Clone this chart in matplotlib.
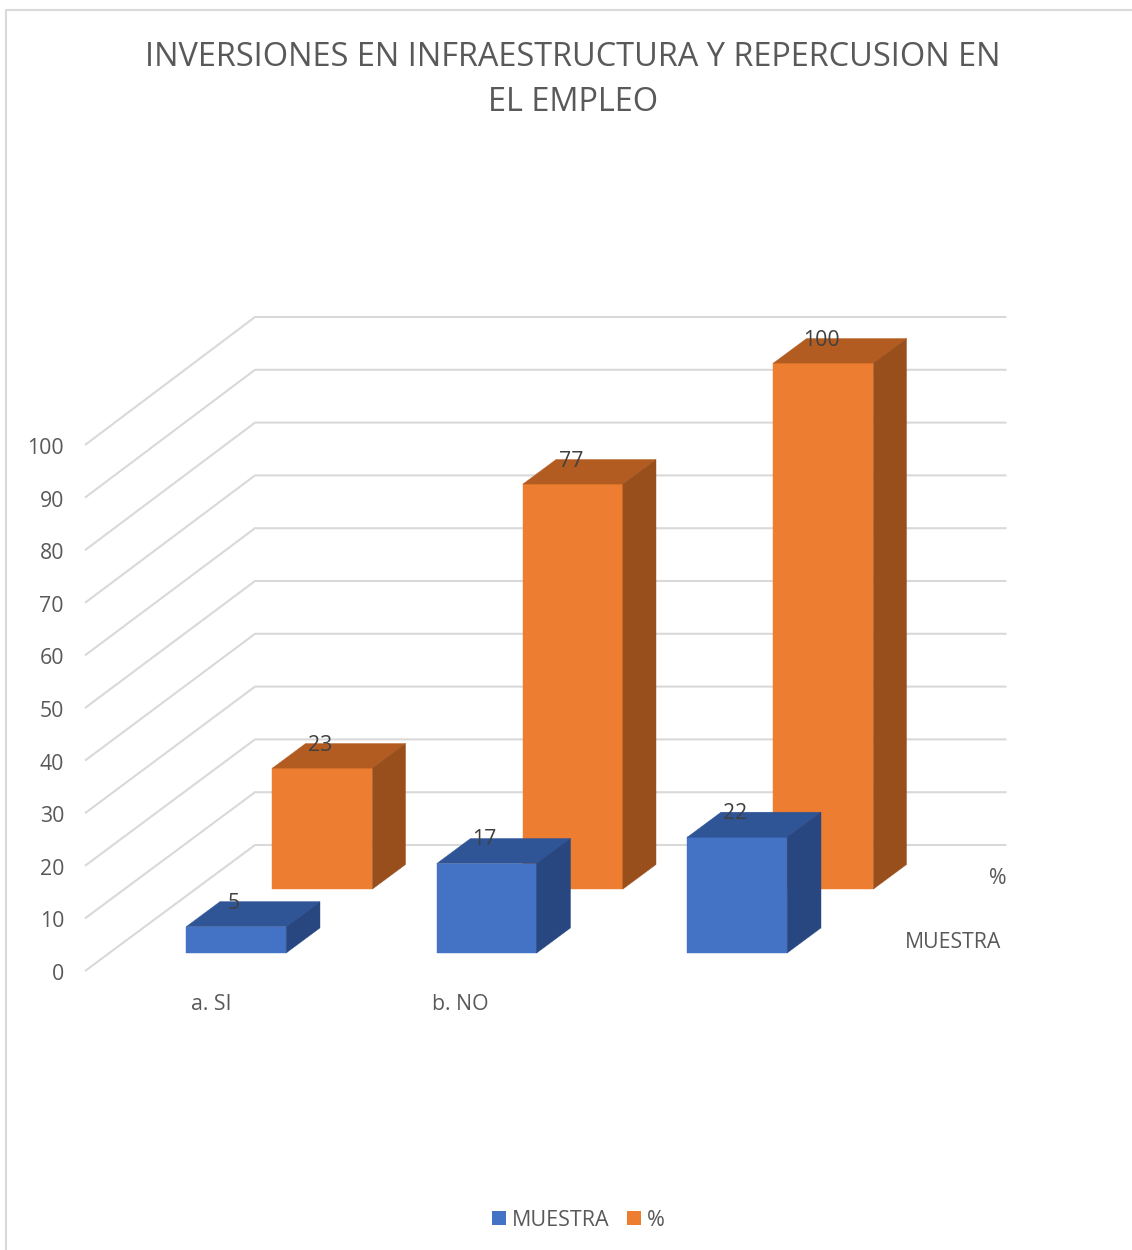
import matplotlib
matplotlib.use('Agg')
import matplotlib.pyplot as plt
from matplotlib.patches import Polygon, Rectangle

# data
title = 'INVERSIONES EN INFRAESTRUCTURA Y REPERCUSION EN\nEL EMPLEO'
categories = ['a. SI', 'b. NO', '']
series_names = ['MUESTRA', '%']
muestra = [5, 17, 22]
porcentaje = [23, 77, 100]
y_ticks = [0, 10, 20, 30, 40, 50, 60, 70, 80, 90, 100]

plt.rcParams['font.family'] = ['Open Sans', 'DejaVu Sans']

W, H = 1132, 1250
TEXT = '#595959'
GRID = '#d9d9d9'

# px per unit, the axes fill the whole figure
CAT_PX = 250.5
VAL_PX = 5.26
X0, Y0 = 85, 971
DEPTH_X, DEPTH_Y = 170 / CAT_PX, 126 / VAL_PX
BACK_SCALE = 5.28 / 5.26  # back wall is a hair taller than the front edge
TEXT_DY = 3.5 / VAL_PX  # Open Sans sits a bit high with va=center


def proj(x, y, d):
    # oblique projection: category, value, depth -> axes data
    return x + d * DEPTH_X, y + d * DEPTH_Y


def bar3d(ax, x0, x1, d0, d1, h, front, top, side):
    ax.add_patch(Polygon([proj(x0, 0, d0), proj(x1, 0, d0), proj(x1, h, d0), proj(x0, h, d0)],
                         facecolor=front, edgecolor=front, lw=0.3))
    ax.add_patch(Polygon([proj(x0, h, d0), proj(x1, h, d0), proj(x1, h, d1), proj(x0, h, d1)],
                         facecolor=top, edgecolor=top, lw=0.3))
    ax.add_patch(Polygon([proj(x1, 0, d0), proj(x1, 0, d1), proj(x1, h, d1), proj(x1, h, d0)],
                         facecolor=side, edgecolor=side, lw=0.3))


fig = plt.figure(figsize=(W / 100, H / 100), dpi=100)
ax = fig.add_axes([0, 0, 1, 1])
ax.set_xlim(-X0 / CAT_PX, (W - X0) / CAT_PX)
ax.set_ylim(-(H - Y0) / VAL_PX, Y0 / VAL_PX)
ax.axis('off')


def px(x, y):
    return (x - X0) / CAT_PX, (Y0 - y) / VAL_PX


# chart frame
ax.plot(*zip(px(6, 1250), px(6, 9.5), px(1132, 9.5)), color='#d9d9d9', lw=1.5)

# gridlines on side wall and back wall
n_cat = len(categories)
for v in y_ticks:
    a = proj(0, v, 0)
    b = proj(0, v * BACK_SCALE, 1)
    c = proj(n_cat, v * BACK_SCALE, 1)
    ax.plot([a[0], b[0], c[0]], [a[1], b[1], c[1]], color=GRID, lw=1.5, zorder=1,
            solid_capstyle='butt')
    ax.text(px(64, 0)[0], v - TEXT_DY, str(v), ha='right', va='center', fontsize=15.3, color=TEXT)

# series sit back to front
bars = [
    (porcentaje, 0.65, 0.845, '#ed7d31', '#b35c21', '#984f1c'),
    (muestra, 0.143, 0.342, '#4472c4', '#2f5597', '#284780'),
]
for vals, d0, d1, front, top, side in bars:
    for i, v in enumerate(vals):
        x0, x1 = i + 0.307, i + 0.706
        bar3d(ax, x0, x1, d0, d1, v, front, top, side)
        # label goes over the back edge of the top face, centred on the front face
        lx = (x0 + x1) / 2 + d0 * DEPTH_X - 2 / CAT_PX
        ly = v + d1 * DEPTH_Y + 2 / VAL_PX - TEXT_DY
        ax.text(lx, ly, str(v), ha='center', va='center', fontsize=15.3, color='#404040', zorder=5)

# category and series axis labels
for i, c in enumerate(categories):
    ax.text(*px(211 + i * 249, 1005), c, ha='center', va='center', fontsize=15.3, color=TEXT)
ax.text(*px(1001, 943), series_names[0], ha='right', va='center', fontsize=15.3, color=TEXT)
ax.text(*px(1006, 879), series_names[1], ha='right', va='center', fontsize=15.3, color=TEXT)

# title
ax.text(*px(573, 80), title, ha='center', va='center', fontsize=23.45, color=TEXT, linespacing=1.5)

# legend
leg_colors = ['#4472c4', '#ed7d31']
leg_x = [492, 627]
for name, col, lx in zip(series_names, leg_colors, leg_x):
    x, y = px(lx, 1225)
    ax.add_patch(Rectangle((x, y), 14 / CAT_PX, 14 / VAL_PX, facecolor=col, edgecolor='none'))
    ax.text(*px(lx + 20, 1220), name, ha='left', va='center', fontsize=15.5, color=TEXT)

fig.savefig('out.png', dpi=100)
